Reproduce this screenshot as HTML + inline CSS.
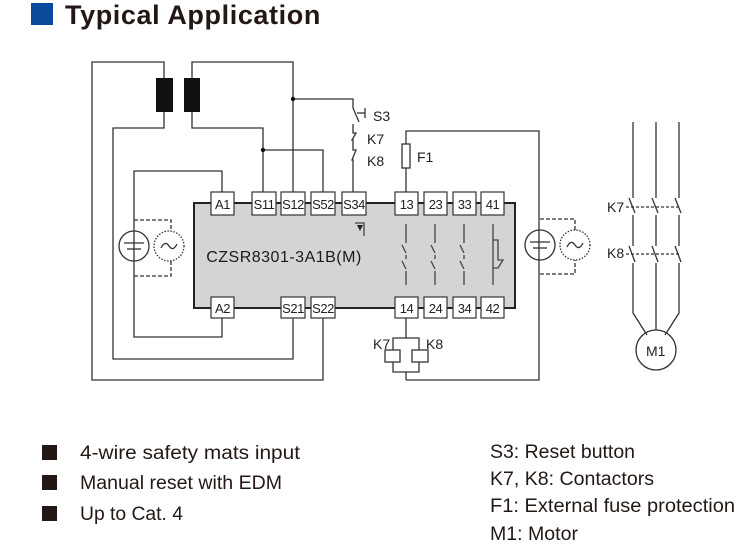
<!DOCTYPE html>
<html><head><meta charset="utf-8"><style>
html,body{margin:0;padding:0;background:#fff;}
body{width:750px;height:557px;overflow:hidden;position:relative;font-family:"Liberation Sans",sans-serif;}
</style></head><body>
<svg width="750" height="557" viewBox="0 0 750 557" xmlns="http://www.w3.org/2000/svg" style="position:absolute;left:0;top:0">
<rect x="31" y="3" width="22" height="22" fill="#0a4a9c"/>
<text x="65" y="24" font-family="Liberation Sans" font-weight="bold" font-size="27" letter-spacing="0.6" fill="#231815">Typical Application</text>

<g fill="none" stroke="#333" stroke-width="1.3">
<rect x="194" y="203" width="321" height="105" fill="#d4d4d6" stroke="#222" stroke-width="2"/>
<polyline points="164,78 164,62 92,62 92,380 323,380 323,318"/>
<polyline points="164,112 164,128 113,128 113,359 293,359 293,318"/>
<polyline points="192,78 192,62 293,62 293,192"/>
<polyline points="192,112 192,128 263,128 263,192"/>
<polyline points="263,150 323,150 323,192"/>
<polyline points="293,99 353,99 353,108"/>
<polyline points="353,108 359,122"/>
<line x1="357" y1="113" x2="365" y2="113"/>
<line x1="365" y1="108" x2="365" y2="118"/>
<polyline points="353,124 353,133 356,133 352,140 353,140 353,150 356,150 352,160 353,160 353,192"/>
<polyline points="222,192 222,171 134,171 134,337 222,337 222,318"/>
<circle cx="134" cy="246" r="15"/>
<line x1="124" y1="243" x2="144" y2="243"/>
<line x1="127" y1="249" x2="141" y2="249"/>
<circle cx="169" cy="246" r="15" stroke-dasharray="1.5,1.5"/>
<path d="M161,248 q4,-8 8,-2 q4,6 8,-2"/>
<polyline points="134,220 171,220 171,231" stroke-dasharray="4,2"/>
<polyline points="134,276 171,276 171,261" stroke-dasharray="4,2"/>
<polyline points="406,192 406,168"/>
<rect x="402" y="144" width="8" height="24"/>
<polyline points="406,144 406,131 539,131 539,380 406,380"/>
<circle cx="540" cy="245" r="15"/>
<line x1="530" y1="242" x2="550" y2="242"/>
<line x1="533" y1="248" x2="547" y2="248"/>
<circle cx="575" cy="245" r="15" stroke-dasharray="1.5,1.5"/>
<path d="M567,247 q4,-8 8,-2 q4,6 8,-2"/>
<polyline points="540,219 575,219 575,230" stroke-dasharray="4,2"/>
<polyline points="540,274 575,274 575,260" stroke-dasharray="4,2"/>
<polyline points="406,318 406,338"/>
<polyline points="393,350 393,338 419,338 419,350"/>
<rect x="385" y="350" width="15" height="12"/>
<rect x="412" y="350" width="16" height="12"/>
<polyline points="393,362 393,372 419,372 419,362"/>
<line x1="406" y1="372" x2="406" y2="380"/>
<g stroke="#444">
<path d="M406,224 V243 M402,245 L406,253 M406,255 V259 M402,261 L406,269 M406,271 V285"/>
<path d="M435,224 V243 M431,245 L435,253 M435,255 V259 M431,261 L435,269 M435,271 V285"/>
<path d="M464,224 V243 M460,245 L464,253 M464,255 V259 M460,261 L464,269 M464,271 V285"/>
<path d="M493,224 V285 M493,240 H498 V260 L503,260 L498,268 H493"/>
<path d="M355,223 H364 V236"/>
</g>
<path d="M633,122 V198 M629,198 L635,213 M633,215 V246 M629,246 L635,262 M633,263 V313 L647,335"/>
<path d="M656,122 V198 M652,198 L658,213 M656,215 V246 M652,246 L658,262 M656,263 V330"/>
<path d="M679,122 V198 M675,198 L681,213 M679,215 V246 M675,246 L681,262 M679,263 V313 L665,335"/>
<path d="M626,207 H679 M626,254 H679" stroke-dasharray="3,2"/>
<circle cx="656" cy="350" r="20"/>
</g>
<rect x="156" y="78" width="17" height="34" fill="#111"/>
<rect x="184" y="78" width="16" height="34" fill="#111"/>
<circle cx="293" cy="99" r="2.2" fill="#111"/>
<circle cx="263" cy="150" r="2.2" fill="#111"/>
<path d="M360,231 l-3,-6 h6 z" fill="#222"/>

<g font-family="Liberation Sans" font-size="14" fill="#222" text-anchor="middle">
<g fill="#fff" stroke="#333" stroke-width="1.2">
<rect x="211" y="192" width="23" height="23"/><rect x="252" y="192" width="24" height="23"/><rect x="281" y="192" width="24" height="23"/><rect x="311" y="192" width="24" height="23"/><rect x="342" y="192" width="24" height="23"/>
<rect x="395" y="192" width="23" height="23"/><rect x="424" y="192" width="23" height="23"/><rect x="453" y="192" width="23" height="23"/><rect x="481" y="192" width="23" height="23"/>
<rect x="211" y="297" width="23" height="21"/><rect x="281" y="297" width="24" height="21"/><rect x="311" y="297" width="24" height="21"/>
<rect x="395" y="297" width="23" height="21"/><rect x="424" y="297" width="23" height="21"/><rect x="453" y="297" width="23" height="21"/><rect x="481" y="297" width="23" height="21"/>
</g>
<g font-size="13" letter-spacing="-0.5">
<text x="222.5" y="209">A1</text><text x="264" y="209">S11</text><text x="293" y="209">S12</text><text x="323" y="209">S52</text><text x="354" y="209">S34</text>
<text x="406.5" y="209">13</text><text x="435.5" y="209">23</text><text x="464.5" y="209">33</text><text x="492.5" y="209">41</text>
<text x="222.5" y="313">A2</text><text x="293" y="313">S21</text><text x="323" y="313">S22</text>
<text x="406.5" y="313">14</text><text x="435.5" y="313">24</text><text x="464.5" y="313">34</text><text x="492.5" y="313">42</text>
</g>
<text x="284" y="262" font-size="16" letter-spacing="0.5" fill="#1a1a1a">CZSR8301-3A1B(M)</text>
<g text-anchor="start" font-size="14">
<text x="373" y="121">S3</text><text x="367" y="144">K7</text><text x="367" y="166">K8</text>
<text x="417" y="162">F1</text>
<text x="373" y="349">K7</text><text x="426" y="349">K8</text>
<text x="607" y="212">K7</text><text x="607" y="258">K8</text>
<text x="646" y="356">M1</text>
</g>
</g>

<g fill="#231815">
<rect x="42" y="445" width="15" height="15"/><rect x="42" y="475" width="15" height="15"/><rect x="42" y="506" width="15" height="15"/>
</g>
<g font-family="Liberation Sans" font-size="19" fill="#231815">
<text x="80" y="459" textLength="220" lengthAdjust="spacingAndGlyphs">4-wire safety mats  input</text>
<text x="80" y="489" textLength="202" lengthAdjust="spacingAndGlyphs">Manual reset with EDM</text>
<text x="80" y="520" textLength="103" lengthAdjust="spacingAndGlyphs">Up to Cat. 4</text>
<text x="490" y="458" textLength="145" lengthAdjust="spacingAndGlyphs">S3: Reset button</text>
<text x="490" y="485" textLength="164" lengthAdjust="spacingAndGlyphs">K7, K8: Contactors</text>
<text x="490" y="512" textLength="245" lengthAdjust="spacingAndGlyphs">F1: External fuse protection</text>
<text x="490" y="540" textLength="88" lengthAdjust="spacingAndGlyphs">M1: Motor</text>
</g>
</svg>
</body></html>
